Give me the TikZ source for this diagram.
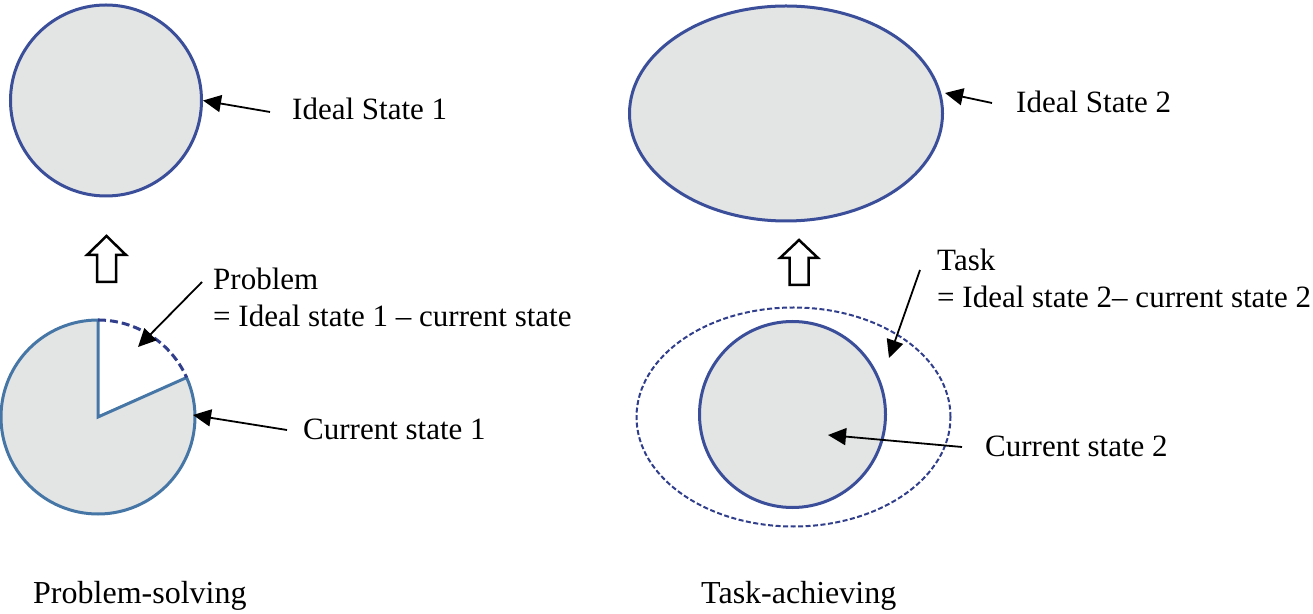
\documentclass[tikz,border=0pt]{standalone}
\usepackage{fontspec}
\setmainfont{Liberation Serif}
\usetikzlibrary{arrows.meta,shapes.geometric}
\definecolor{ringblue}{RGB}{58,78,154}
\definecolor{pieblue}{RGB}{70,118,166}
\definecolor{dashblue}{RGB}{48,62,140}
\definecolor{statefill}{RGB}{227,228,228}
\begin{document}
\begin{tikzpicture}[x=1pt,y=1pt,
  lbl/.style={anchor=base west,inner sep=0pt,font=\fontsize{31}{37}\selectfont,align=left},
  pointer/.style={line width=1.8pt,-{Triangle[length=18pt,width=17pt]}},
  state/.style={draw=ringblue,line width=3pt,fill=statefill,inner sep=0pt},
  blockarrow/.style={draw=black,line width=2.5pt,fill=white,line join=miter}]
\useasboundingbox (0,0) rectangle (1313,613);

% ---------- left: problem-solving ----------
\node[state,circle,minimum size=191pt] (ideal1) at (106,512.5) {};
\node[lbl] (tideal1) at (292,493) {Ideal State 1};
\coordinate (sideal1) at (270,501);
\draw[pointer] (sideal1) -- (ideal1.east);

\draw[blockarrow] (106.5,377) -- (126,358) -- (116,358) -- (116,331) -- (97,331) -- (97,358) -- (87,358) -- cycle;

\coordinate (pc) at (98,196);
\fill[statefill] (pc) -- (98,293) arc[start angle=90,end angle=384,radius=97] -- cycle;
\draw[pieblue,line width=3pt,line join=miter] (pc) -- (98,293) arc[start angle=90,end angle=384,radius=97] -- cycle;
\draw[dashblue,line width=3pt,dash pattern=on 8pt off 4pt] (98,293) arc[start angle=90,end angle=24,radius=97];

\node[lbl] (tproblem) at (213,286) {Problem\\= Ideal state 1 -- current state};
\coordinate (sproblem) at (202,331);
\coordinate (eproblem) at (138,266);
\draw[pointer] (sproblem) -- (eproblem);

\node[lbl] (tcur1) at (303,173) {Current state 1};
\coordinate (scur1) at (287,183);
\coordinate (ecur1) at (193,198);
\draw[pointer] (scur1) -- (ecur1);

\node[lbl,font=\fontsize{32}{38}\selectfont] (tps) at (33,10) {Problem-solving};

% ---------- right: task-achieving ----------
\node[state,ellipse,minimum width=313pt,minimum height=215pt] (ideal2) at (786,499.5) {};
\node[lbl] (tideal2) at (1016,500) {Ideal State 2};
\coordinate (sideal2) at (992,510);
\coordinate (eideal2) at (945,520);
\draw[pointer] (sideal2) -- (eideal2);

\draw[blockarrow] (799,373) -- (818,355) -- (808.5,355) -- (808.5,328) -- (789.5,328) -- (789.5,355) -- (780,355) -- cycle;

\node[ellipse,draw=dashblue,line width=2pt,dash pattern=on 5pt off 2.5pt,minimum width=314pt,minimum height=219pt,inner sep=0pt] (task) at (793.5,196) {};
\node[state,circle,minimum size=186pt] (cur2) at (792.5,198.5) {};

\node[lbl] (ttask) at (937,305) {Task\\= Ideal state 2-- current state 2};
\coordinate (stask) at (920,343);
\coordinate (etask) at (889,255);
\draw[pointer] (stask) -- (etask);

\node[lbl] (tcur2) at (985,156) {Current state 2};
\coordinate (scur2) at (962,166);
\coordinate (ecur2) at (828,178);
\draw[pointer] (scur2) -- (ecur2);

\node[lbl,font=\fontsize{32}{38}\selectfont] (tta) at (701,10) {Task-achieving};
\end{tikzpicture}
\end{document}
